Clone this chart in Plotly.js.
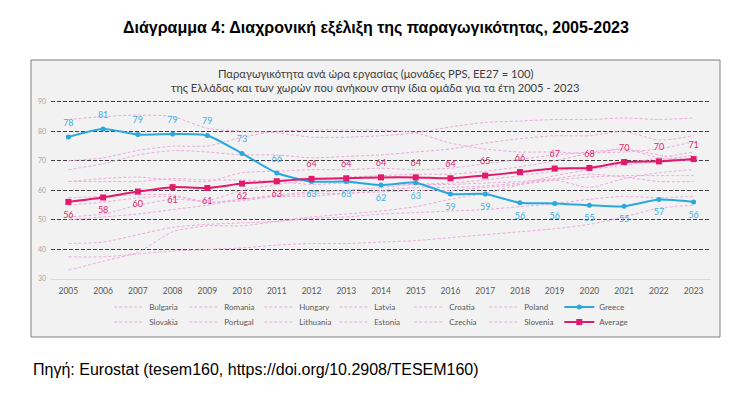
<!DOCTYPE html>
<html>
<head>
<meta charset="utf-8">
<script src="https://cdn.plot.ly/plotly-3.0.1.min.js"></script>
<style>
html,body{margin:0;padding:0;background:#fff;}
#chart{width:752px;height:397px;}
</style>
</head>
<body>
<div id="chart"></div>
<script>
const years = ["2005","2006","2007","2008","2009","2010","2011","2012","2013","2014","2015","2016","2017","2018","2019","2020","2021","2022","2023"];

const bulgaria  = [37.5,37.5,38.5,39.5,40,40.5,41.5,42,42,42.5,43,44,45,46,47,48.5,51,54,55];
const romania   = [33,36,39,46,48,48,49.5,51,52,53,54.5,57,59,62,65,67,68.5,70,72];
const hungary   = [57.5,58,58.5,58.5,56,57,58,58,59,59.5,60,60,61,62,63.5,64.5,65,65,65];
const latvia    = [42,42.5,45,47.5,48.5,49,49.5,50.5,51,52,52.5,53,53.5,54.5,55.5,57,58,57.5,58];
const croatia   = [55,56,57.5,58,56,56.5,58,59,59,60,61,61,61.5,62.5,63.5,61,64,66,67];
const poland    = [50,51,52,53.5,55,57,58.5,59.5,60,61,62,62.5,63.5,65,66.5,68,69,71,73];
const slovakia  = [70,71,73.5,75,75,78,80,80.5,80.5,80.5,79.5,76,74,73,73,72.5,74,71,70];
const portugal  = [63,63,63,64,63.5,63.5,63,62,62.5,62,62,62,62.5,63,64,65.5,64.5,63,63];
const lithuania = [51,52,55,57,56.5,60,62,63.5,64.5,65,65.5,65.5,66.5,68,70,72.5,73,74,76.5];
const estonia   = [63,64,64.5,63.5,63,66,66.5,67,67,67.5,67,67.5,69,70.5,72,73,74,72,70];
const czechia   = [67,69,72,73.5,73,72,72,71,71.5,72,73,74,76,77.5,78.5,78.5,80,77,78.5];
const slovenia  = [84,85,85.5,85,81,80,79.5,78,78,78.5,79.5,81.5,83,83.5,84,84,84.5,84,84.5];

const greece  = [78.1,80.8,78.9,79.1,78.6,72.5,65.9,63.0,63.0,61.8,62.6,58.8,58.8,55.8,55.6,55.0,54.6,56.9,56.1];
const average = [56.1,57.6,59.6,61.1,60.8,62.3,63.1,63.9,64.1,64.4,64.4,64.1,65.0,66.2,67.4,67.6,69.6,69.8,70.6];

const row1Countries = [["Bulgaria",bulgaria],["Romania",romania],["Hungary",hungary],["Latvia",latvia],["Croatia",croatia],["Poland",poland]];
const row2Countries = [["Slovakia",slovakia],["Portugal",portugal],["Lithuania",lithuania],["Estonia",estonia],["Czechia",czechia],["Slovenia",slovenia]];

const FONT = "Lato, 'Open Sans', sans-serif";
const PINK = "#eeaadc";
const BLUE = "#2aa8de";
const RED = "#e3196b";

const traces = [];
function countryTrace(name, vals, legendId){
  return {x: years, y: vals, name: name, type: "scatter", mode: "lines",
    line: {color: PINK, width: 1, dash: "3px,2px", shape: "spline", smoothing: 0.6},
    legend: legendId, hoverinfo: "skip"};
}
row1Countries.forEach(c => traces.push(countryTrace(c[0], c[1], "legend")));
row2Countries.forEach(c => traces.push(countryTrace(c[0], c[1], "legend2")));

traces.push({x: years, y: greece, name: "Greece", type: "scatter", mode: "lines+markers",
  line: {color: BLUE, width: 2, shape: "spline", smoothing: 0.6},
  marker: {color: BLUE, size: 5, symbol: "circle"}, legend: "legend", hoverinfo: "skip"});
traces.push({x: years, y: average, name: "Average", type: "scatter", mode: "lines+markers",
  line: {color: RED, width: 2, shape: "spline", smoothing: 0.6},
  marker: {color: RED, size: 6, symbol: "square"}, legend: "legend2", hoverinfo: "skip"});

const greecePos = years.map((y,i) => i <= 6 ? "top center" : "bottom center");
const avgPos = years.map((y,i) => i <= 6 ? "bottom center" : "top center");

traces.push({x: years, y: greece, type: "scatter", mode: "markers+text", texttemplate: "%{y:.0f}",
  marker: {size: 13, opacity: 0},
  textposition: greecePos, textfont: {family: FONT, size: 9, color: "#3fb0e2"},
  showlegend: false, hoverinfo: "skip"});
traces.push({x: years, y: average, type: "scatter", mode: "markers+text", texttemplate: "%{y:.0f}",
  marker: {size: 13, opacity: 0},
  textposition: avgPos, textfont: {family: FONT, size: 9, color: "#d9286e"},
  showlegend: false, hoverinfo: "skip"});

const legendCommon = {orientation: "h", xref: "paper", yref: "paper", x: 0.486, xanchor: "center",
  yanchor: "middle", font: {family: FONT, size: 8, color: "#595959"}, bgcolor: "rgba(0,0,0,0)",
  entrywidth: 30, itemwidth: 30, traceorder: "normal"};

// plot area: top edge 100px, bottom edge 279px -> 179px tall
const PT = 100, PB = 279, PH = PB - PT;
const py = px => (PB - px) / PH;   // page pixel -> paper y
const L = 51, PW = 660;
const pxx = px => (px - L) / PW;   // page pixel -> paper x

const layout = {
  width: 752, height: 397,
  margin: {l: L, r: 752 - L - PW, t: PT, b: 397 - PB, autoexpand: false},
  paper_bgcolor: "#ffffff",
  plot_bgcolor: "rgba(0,0,0,0)",
  showlegend: true,
  hovermode: false,
  xaxis: {type: "category", range: [-0.5, 18.5], showgrid: false, zeroline: false,
    showline: true, linecolor: "#d9d9d9", linewidth: 1, ticks: "",
    tickfont: {family: FONT, size: 8.5, color: "#595959"}, ticklabelstandoff: 4, fixedrange: true},
  yaxis: {range: [30, 90.6], tickvals: [30,40,50,60,70,80,90], showgrid: true, gridcolor: "#404040",
    griddash: "4px,2px", gridwidth: 1, zeroline: false, showline: false, ticks: "",
    tickfont: {family: FONT, size: 7, color: "#a6a6a6"}, ticklabelstandoff: 4, fixedrange: true},
  legend: Object.assign({}, legendCommon, {y: py(307)}),
  legend2: Object.assign({}, legendCommon, {y: py(322)}),
  shapes: [{type: "rect", xref: "paper", yref: "paper", x0: pxx(31), x1: pxx(720), y0: py(337), y1: py(60),
    fillcolor: "#f2f2f2", line: {color: "#7f7f7f", width: 1}, layer: "below"}],
  annotations: [
    {text: "<b>Διάγραμμα 4: Διαχρονική εξέλιξη της παραγωγικότητας, 2005-2023</b>", xref: "paper", yref: "paper",
      x: pxx(376), y: py(28), xanchor: "center", yanchor: "middle", showarrow: false,
      font: {family: "'Liberation Sans', Arial, sans-serif", size: 16, color: "#000000"}},
    {text: "Παραγωγικότητα ανά ώρα εργασίας (μονάδες PPS, ΕΕ27 = 100)", xref: "paper", yref: "paper",
      x: pxx(375), y: py(73), xanchor: "center", yanchor: "middle", showarrow: false,
      font: {family: FONT, size: 11.2, color: "#404040"}},
    {text: "της Ελλάδας και των χωρών που ανήκουν στην ίδια ομάδα για τα έτη 2005 - 2023", xref: "paper", yref: "paper",
      x: pxx(375), y: py(87), xanchor: "center", yanchor: "middle", showarrow: false,
      font: {family: FONT, size: 11.2, color: "#404040"}},
    {text: "Πηγή: Eurostat (tesem160, https://doi.org/10.2908/TESEM160)", xref: "paper", yref: "paper",
      x: pxx(31), y: py(369), xanchor: "left", yanchor: "middle", showarrow: false,
      font: {family: "'Liberation Sans', Arial, sans-serif", size: 16, color: "#000000"}}
  ]
};

Plotly.newPlot("chart", traces, layout, {staticPlot: true, displayModeBar: false});
</script>
</body>
</html>
